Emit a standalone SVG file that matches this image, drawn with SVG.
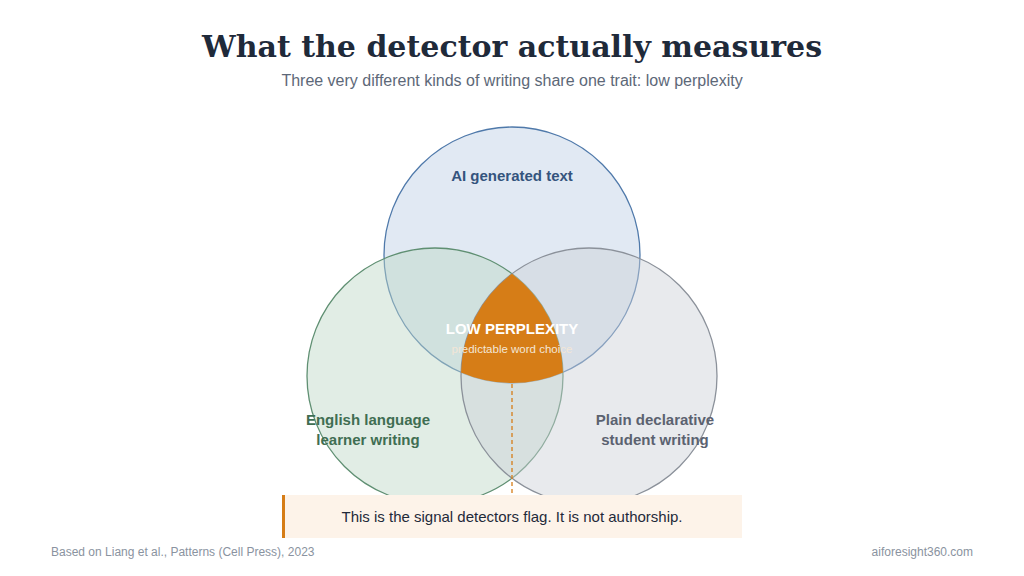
<svg xmlns="http://www.w3.org/2000/svg" width="1024" height="576" viewBox="0 0 1024 576">
<style>
.t{font-family:"DejaVu Serif",serif;font-weight:bold;font-size:30px;fill:#1f2a3a}
.s{font-family:"Liberation Sans",Arial,sans-serif}
.lab{font-family:"Liberation Sans",Arial,sans-serif;font-weight:bold;font-size:15px;text-anchor:middle}
</style>
<rect width="1024" height="576" fill="#ffffff"/>
<text class="t" x="512" y="57" text-anchor="middle">What the detector actually measures</text>
<text class="s" x="512" y="86" text-anchor="middle" font-size="16" fill="#5d6878">Three very different kinds of writing share one trait: low perplexity</text>
<g id="ai"><circle cx="512" cy="255" r="128" fill="#c3d4e8" fill-opacity="0.5" stroke="#4f79aa" stroke-width="1.3"/></g>
<g id="ell"><circle cx="435" cy="376" r="128" fill="#bcd6c6" fill-opacity="0.45" stroke="#5f8f72" stroke-width="1.3"/></g>
<g id="plain"><circle cx="589" cy="376" r="128" fill="#cdd1d6" fill-opacity="0.45" stroke="#8b919a" stroke-width="1.3"/></g>
<g id="core">
<path d="M512,273.75 A128,128 0 0 0 461.04,372.43 A128,128 0 0 0 562.96,372.43 A128,128 0 0 0 512,273.75 Z" fill="#d67d17"/>
<text class="lab" x="512" y="334" fill="#ffffff" font-size="13">LOW PERPLEXITY</text>
<text class="s" x="512" y="353" text-anchor="middle" font-size="11.5" fill="#f3e6d6">predictable word choice</text>
</g>
<text class="lab" x="512" y="181" fill="#34547d">AI generated text</text>
<text class="lab" x="368" y="425" fill="#3f6e52">English language</text>
<text class="lab" x="368" y="445" fill="#3f6e52">learner writing</text>
<text class="lab" x="655" y="425" fill="#5b6270">Plain declarative</text>
<text class="lab" x="655" y="445" fill="#5b6270">student writing</text>
<g id="connectors"><line x1="512" y1="384" x2="512" y2="495" stroke="#d67d17" stroke-width="1.3" stroke-dasharray="4,3"/></g>
<g id="callout">
<rect x="282" y="495" width="460" height="43" fill="#fdf3e9"/>
<rect x="282" y="495" width="3" height="43" fill="#d67d17"/>
<text class="s" x="512" y="522" text-anchor="middle" font-size="15" fill="#1f2a3a">This is the signal detectors flag. It is not authorship.</text>
</g>
<text class="s" x="51" y="556" font-size="12" fill="#8a93a0">Based on Liang et al., Patterns (Cell Press), 2023</text>
<text class="s" x="973" y="556" font-size="12" fill="#8a93a0" text-anchor="end">aiforesight360.com</text>
</svg>
